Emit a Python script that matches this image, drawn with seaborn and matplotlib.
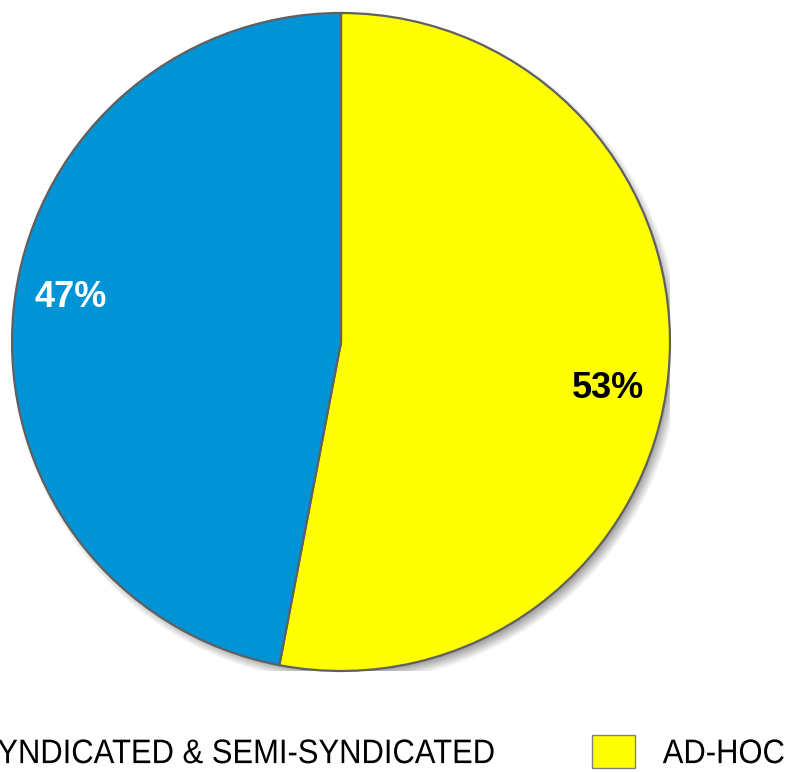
import numpy as np
import matplotlib
matplotlib.use("Agg")
import matplotlib.pyplot as plt
import seaborn as sns
from matplotlib.patches import Patch
from matplotlib.patheffects import AbstractPathEffect
from matplotlib.transforms import Affine2D

sns.set_theme(style="white")

# Data
categories = ["AD-HOC", "SYNDICATED & SEMI-SYNDICATED"]
shares = [53, 47]
colors = ["#FFFF00", "#0094D7"]
label_colors = ["black", "white"]

plt.rcParams["font.family"] = ["Liberation Sans", "DejaVu Sans"]
plt.rcParams["text.color"] = "black"


class StretchX(AbstractPathEffect):
    """Horizontally compress text glyphs about the text origin."""

    def __init__(self, sx):
        super().__init__()
        self.sx = sx

    def draw_path(self, renderer, gc, tpath, affine, rgbFace=None):
        renderer.draw_path(gc, tpath, Affine2D().scale(self.sx, 1.0) + affine, rgbFace)


fig = plt.figure(figsize=(7.91, 7.72), dpi=100)
fig.patch.set_facecolor("white")
ax = fig.add_axes([12 / 791, 101 / 772, 658 / 791, 658 / 772])

# soft drop shadow behind the pie
n = 700
xs = np.linspace(-1.1, 1.1, n)
X, Y = np.meshgrid(xs, xs)
d = np.hypot(X - 0.016, Y + 0.02)
a = np.clip((1.0 - d) / 0.035 + 0.5, 0, 1)
shadow = np.zeros((n, n, 4))
shadow[..., :3] = 0.3
shadow[..., 3] = a * 0.5
ax.imshow(shadow, extent=(-1.1, 1.1, -1.1, 1.1), origin="lower", zorder=0,
          interpolation="bilinear")

wedges, _ = ax.pie(shares, colors=colors, startangle=90, counterclock=False,
                   radius=1.0,
                   wedgeprops=dict(edgecolor="#606060", linewidth=1.6))
for w in wedges:
    w.set_zorder(2)

ax.set_xlim(-1, 1)
ax.set_ylim(-1, 1)
ax.set_aspect("equal")
ax.axis("off")

# percentage labels
label_pos = [(-9.9, 0.823), (170.7, 0.832)]
for val, (ang, r), c in zip(shares, label_pos, label_colors):
    t = np.deg2rad(ang)
    ax.text(r * np.cos(t), r * np.sin(t), f"{val}%", ha="center", va="center",
            fontsize=26, fontweight="bold", color=c, zorder=3)

handles = [Patch(facecolor=colors[1], edgecolor="#808080", linewidth=1.0),
           Patch(facecolor=colors[0], edgecolor="#808080", linewidth=1.0)]
leg = fig.legend(handles, [categories[1], categories[0]], ncol=2,
                 loc="center left", bbox_to_anchor=(-0.119, 0.025),
                 frameon=False, prop=dict(size=24.5),
                 handlelength=1.26, handleheight=1.09, handletextpad=0.82,
                 columnspacing=1.38, borderpad=0, borderaxespad=0)
for txt in leg.get_texts():
    txt.set_color("black")
    txt.set_path_effects([StretchX(0.91)])

fig.savefig("out.png", dpi=100, facecolor="white")
